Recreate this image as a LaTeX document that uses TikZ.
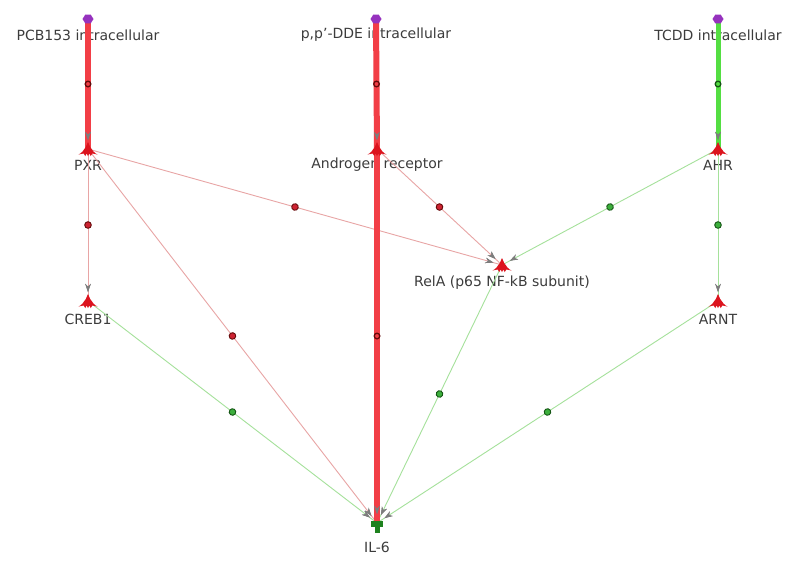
\documentclass[tikz,border=0pt]{standalone}
\usepackage{fontspec}
\setmainfont{DejaVu Sans}
\usetikzlibrary{arrows.meta,decorations.markings}
\definecolor{txt}{RGB}{60,60,60}
\definecolor{thickred}{RGB}{242,62,70}
\definecolor{thickgreen}{RGB}{84,222,66}
\definecolor{thinred}{RGB}{232,165,165}
\definecolor{thingreen}{RGB}{165,225,155}
\definecolor{dotred}{RGB}{205,35,50}
\definecolor{dotredline}{RGB}{100,10,10}
\definecolor{dotgreen}{RGB}{60,175,60}
\definecolor{dotgreenline}{RGB}{20,85,20}
\definecolor{arrgray}{RGB}{125,125,125}
\definecolor{glyphred}{RGB}{220,20,30}
\definecolor{glyphgreen}{RGB}{30,130,30}
\definecolor{purp}{RGB}{150,50,190}
\begin{document}
\begin{tikzpicture}[x=1pt,y=-1pt,
  lbl/.style={text=txt,font=\fontsize{14}{16}\selectfont,inner sep=0pt},
  tipmark/.style={postaction={decorate},decoration={markings,
     mark=at position -9pt with {\arrow[arrgray]{Stealth[length=8pt,width=5.5pt]}}}},
  reddot/.style={decoration={markings,mark=at position 0.5 with {\filldraw[fill=dotred,draw=dotredline,line width=0.9pt] (0,0) circle (3.3pt);}}},
  greendot/.style={decoration={markings,mark=at position 0.5 with {\filldraw[fill=dotgreen,draw=dotgreenline,line width=0.9pt] (0,0) circle (3.3pt);}}},
  opendot/.style={decoration={markings,mark=at position 0.5 with {\draw[draw=dotredline,line width=1.3pt] (0,0) circle (2.8pt);}}},
  opengdot/.style={decoration={markings,mark=at position 0.5 with {\draw[draw=dotgreenline,line width=1.3pt] (0,0) circle (2.8pt);}}},
  thinr/.style={draw=thinred,line width=0.9pt,postaction={decorate,reddot},tipmark},
  thing/.style={draw=thingreen,line width=0.9pt,postaction={decorate,greendot},tipmark},
  thickr/.style={draw=thickred,line width=6pt,postaction={decorate,opendot},tipmark},
  thickg/.style={draw=thickgreen,line width=5pt,postaction={decorate,opengdot},tipmark},
]
\useasboundingbox (0,0) rectangle (800,563);
\fill[white] (0,0) rectangle (800,563);

% glyph centres
\coordinate (pcb) at (88,19);
\coordinate (dde) at (376,19);
\coordinate (tcdd) at (718,19);
\coordinate (pxr) at (88,149);
\coordinate (ar) at (377,149);
\coordinate (ahr) at (718,149);
\coordinate (rela) at (502,265);
\coordinate (creb) at (88,301);
\coordinate (arnt) at (718,301);
\coordinate (il6) at (377,523);

% labels
\node[lbl] (pcbL) at (88,35) {PCB153 intracellular};
\node[lbl] (ddeL) at (376,35) {p,p'-DDE intracellular};
\node[lbl] (tcddL) at (718,35) {TCDD intracellular};
\node[lbl] (pxrL) at (88,165) {PXR};
\node[lbl] (arL) at (377,165) {Androgen receptor};
\node[lbl] (ahrL) at (718,165) {AHR};
\node[lbl] (relaL) at (502,283) {RelA (p65 NF-kB subunit)};
\node[lbl] (crebL) at (88,319) {CREB1};
\node[lbl] (arntL) at (718,319) {ARNT};
\node[lbl] (il6L) at (377,547) {IL-6};

% thin edges
\draw[thinr] (pxr) -- (creb);
\draw[thinr] (pxr) -- (rela);
\draw[thinr] (pxr) -- (il6);
\draw[thinr] (ar) -- (rela);
\draw[thing] (ahr) -- (rela);
\draw[thing] (ahr) -- (arnt);
\draw[thing] (creb) -- (il6);
\draw[thing] (rela) -- (il6);
\draw[thing] (arnt) -- (il6);
% thick edges
\draw[thickr] (pcb) -- (pxr);
\draw[thickr] (dde) -- (ar);
\draw[thickr] (ar) -- (il6);
\draw[thickg] (tcdd) -- (ahr);

% glyphs
\foreach \c in {pcb,dde,tcdd}{
  \fill[purp] (\c) ++(-5.5,0) -- ++(2.75,-4.3) -- ++(5.5,0) -- ++(2.75,4.3) -- ++(-2.75,4.3) -- ++(-5.5,0) -- cycle;
}
\foreach \c in {pxr,ar,ahr,rela,creb,arnt}{
  \fill[glyphred] (\c) ++(0,-7) -- ++(2.2,5) .. controls ++(2,3) and ++(-3,-1) .. ++(7.3,7.5)
     -- ++(-5.2,-1) -- ++(-1.6,2.6) -- ++(-1.3,-2.6) -- ++(-1.4,2.6) -- ++(-1.4,-2.6) -- ++(-1.3,2.6) -- ++(-1.6,-2.6)
     -- ++(-5.2,1) .. controls ++(3,-1) and ++(-2,3) .. ++(7.3,-7.5) -- cycle;
}
\fill[glyphgreen] (il6) ++(-6,-2) rectangle ++(12,6);
\fill[glyphgreen] (il6) ++(-2.5,3) rectangle ++(5,7);
\end{tikzpicture}
\end{document}
